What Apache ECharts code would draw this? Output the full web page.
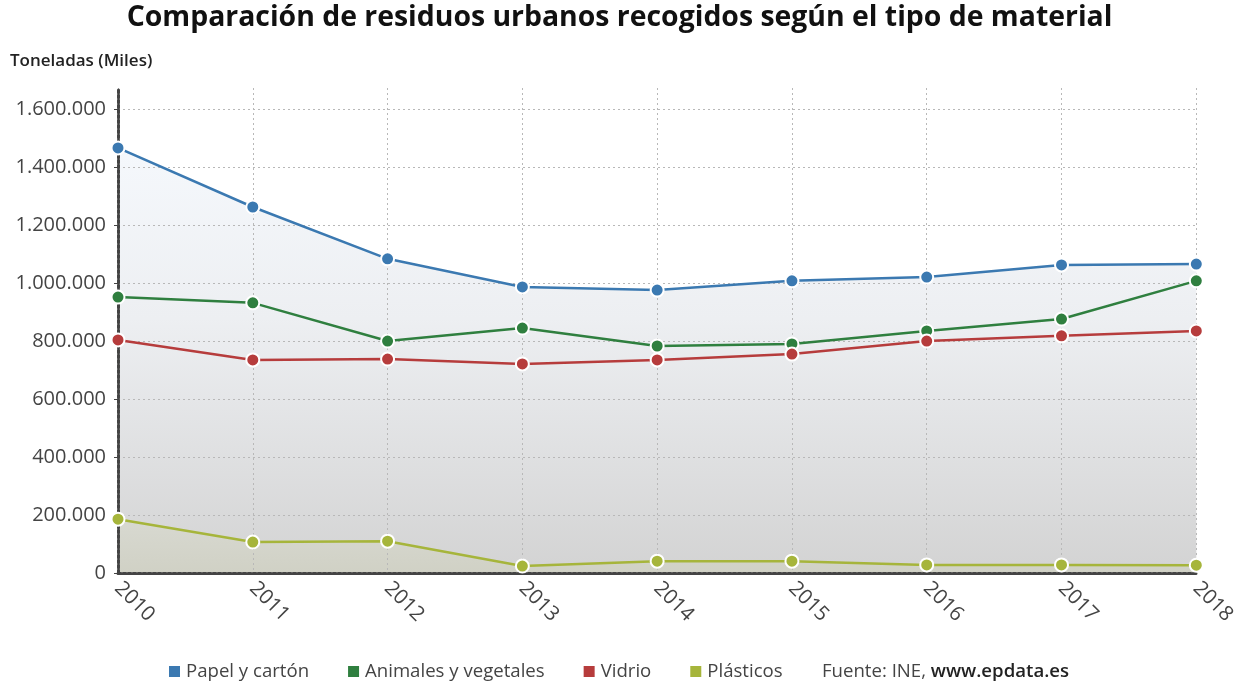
<!DOCTYPE html>
<html><head><meta charset="utf-8">
<script src="https://cdn.jsdelivr.net/npm/echarts@6/dist/echarts.min.js"></script>
<style>html,body{margin:0;padding:0;background:#fff}#c{width:1239px;height:696px}</style>
</head><body><div id="c"></div>
<script>
const years = ['2010','2011','2012','2013','2014','2015','2016','2017','2018'];
const papel = [1468000,1264000,1085000,988000,977000,1009000,1022000,1064000,1067000];
const animales = [953000,933000,801000,846000,784000,791000,836000,877000,1009000];
const vidrio = [805000,736000,739000,722000,736000,756000,801000,819000,836000];
const plasticos = [186000,107000,110000,24000,41000,41000,28000,28000,27000];
const seriesNames = ['Papel y cartón','Animales y vegetales','Vidrio','Plásticos'];
const yTicks = [200000,400000,600000,800000,1000000,1200000,1400000,1600000];
const colors = ['#3b79b1','#2f7f3f','#b63c3c','#a6b53b'];

function fmt(v){return String(v).replace(/\B(?=(\d{3})+(?!\d))/g,'.');}
const font = '"Open Sans", "Noto Sans", sans-serif';
const chart = echarts.init(document.getElementById('c'));
function mk(name, data, color){
  return {name, type:'line', data, color, symbol:'circle', symbolSize:13,
    lineStyle:{width:2.5,color}, itemStyle:{color, borderColor:'#fff', borderWidth:2},
    emphasis:{disabled:true}, z:10};
}
function areaOf(name, data, grad, z, extra){
  return Object.assign({name:name+' (área)', type:'line', data, symbol:'none', silent:true, lineStyle:{width:0},
    areaStyle:{opacity:1, color:new echarts.graphic.LinearGradient(0,0,0,1,grad)}, z}, extra||{});
}
chart.setOption({
  animation:false,
  textStyle:{fontFamily:font},
  title:{text:'Comparación de residuos urbanos recogidos según el tipo de material', left:'center', top:-1,
    textStyle:{fontFamily:font, fontSize:28.4, fontWeight:'bold', color:'#111'}},
  legend:{bottom:10, left:162, itemWidth:13, itemHeight:13, itemGap:37, icon:'rect',
    textStyle:{fontFamily:font, fontSize:18.6, color:'#444'}, data:seriesNames},
  graphic:[
    {type:'text', left:10, top:53, style:{text:'Toneladas (Miles)', font:'600 17px '+font, fill:'#222'}},
    {type:'text', left:822, top:662, style:{rich:{a:{font:'18.6px '+font, fill:'#444'}, b:{font:'600 18.6px '+font, fill:'#222'}}, text:'{a|Fuente: INE, }{b|www.epdata.es}'}}
  ],
  grid:{left:118, right:40, top:88, bottom:123, containLabel:false},
  xAxis:{type:'category', data:years, boundaryGap:false, z:5,
    axisLine:{lineStyle:{color:'#444', width:3, type:[3,2]}},
    axisTick:{show:false},
    splitLine:{show:true, lineStyle:{color:'#b8b8b8', type:[2,3], width:1}},
    axisLabel:{rotate:-45, fontSize:20.5, color:'#444', margin:12, fontFamily:font}},
  yAxis:{type:'value', min:0, max:1675000, interval:200000, z:5,
    axisLine:{show:true, lineStyle:{color:'#444', width:3, type:[3,2]}},
    axisTick:{show:true, length:4, lineStyle:{color:'#444'}},
    splitLine:{show:false},
    axisLabel:{fontSize:20, color:'#444', margin:12, fontFamily:font, showMaxLabel:false,
      formatter:v=> v>1600000?'':fmt(v)}},
  series:[
    areaOf(seriesNames[0], papel, [{offset:0,color:'#f5f8fc'},{offset:0.4,color:'#edeff2'},{offset:1,color:'#d3d3d3'}], 1),
    areaOf(seriesNames[3], plasticos, [{offset:0,color:'#d8d9d1'},{offset:1,color:'#d0d1c5'}], 2,
      {markLine:{silent:true, symbol:'none', label:{show:false}, lineStyle:{color:'#b8b8b8', type:[2,3], width:1},
        data: yTicks.map(v=>({yAxis:v}))}}),
    mk(seriesNames[0], papel, colors[0]),
    mk(seriesNames[1], animales, colors[1]),
    mk(seriesNames[2], vidrio, colors[2]),
    mk(seriesNames[3], plasticos, colors[3])
  ]
});
</script></body></html>
